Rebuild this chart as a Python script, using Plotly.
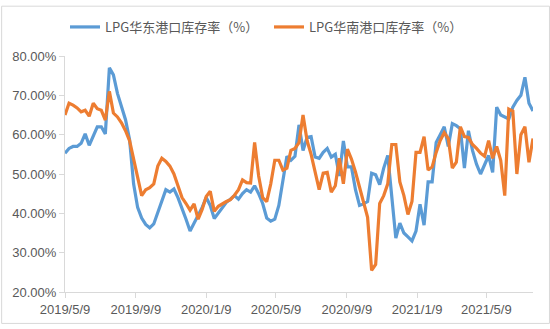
import pandas as pd
import plotly.graph_objects as go

# Weekly observations starting 2019-05-09
start_date = "2019-05-09"
n_weeks = 117
dates = pd.date_range(start_date, periods=n_weeks, freq="7D")

east_china = [
    55.3, 56.5, 57.0, 57.0, 57.8, 60.2, 57.3, 59.5, 62.0, 62.0,
    60.2, 77.0, 75.2, 70.5, 67.3, 63.8, 58.8, 47.5, 41.5, 38.8,
    37.2, 36.3, 37.3, 40.3, 43.0, 46.0, 45.4, 46.2, 44.0, 41.5,
    38.5, 35.5, 37.4, 39.5, 41.5, 44.0, 42.0, 38.7, 40.0, 41.5,
    42.8, 43.6, 44.5, 43.6, 45.0, 46.0, 45.4, 47.0, 45.0, 42.5,
    38.8, 38.0, 38.5, 42.0, 48.5, 54.5, 53.5, 54.5, 62.5, 56.0,
    59.3, 59.5, 54.3, 54.0, 55.5, 56.5, 54.3, 55.0, 49.5, 58.4,
    51.8, 51.8, 46.0, 42.0, 42.4, 43.0, 50.2, 49.8, 47.3, 51.5,
    54.7, 45.0, 33.7, 37.5, 35.0, 34.0, 33.0, 35.5, 42.3, 37.0,
    48.0, 48.0, 58.0, 60.0, 62.0, 57.0, 62.8, 62.3, 61.5, 51.5,
    61.0, 56.0, 52.5, 50.0, 52.2, 54.7, 50.4, 67.0, 65.0, 64.4,
    64.0, 67.0, 68.7, 70.0, 74.6, 68.0, 66.0,
]

south_china = [
    65.0, 68.0, 67.5, 66.8, 65.8, 66.2, 64.7, 68.0, 66.6, 66.2,
    63.7, 71.0, 65.5, 64.5, 63.0, 61.0, 58.5, 53.5, 49.0, 44.5,
    46.0, 46.5, 47.5, 52.0, 54.0, 53.2, 52.0, 50.0, 47.0, 44.0,
    42.5, 40.8, 42.4, 38.5, 41.0, 44.3, 45.6, 40.5, 41.8, 42.5,
    43.0, 43.5, 44.6, 46.0, 48.5, 47.8, 47.7, 58.0, 49.5, 44.0,
    43.0, 47.5, 53.5, 53.5, 51.0, 51.5, 56.0, 56.5, 58.0, 65.0,
    58.5, 55.0, 50.5, 46.0, 50.2, 50.4, 45.4, 47.0, 54.0, 47.5,
    56.3, 53.8, 50.5, 46.8, 42.8, 39.0, 25.5, 27.0, 42.5, 44.5,
    47.5, 57.5, 57.5, 48.0, 44.5, 39.7, 43.0, 55.5, 55.5, 59.5,
    51.0, 51.8, 55.5, 58.5, 60.5, 59.0, 51.5, 53.0, 62.0, 59.5,
    59.3, 57.5, 56.5, 55.3, 54.5, 58.5, 54.0, 57.0, 53.5, 44.5,
    66.5, 66.0, 50.0, 60.0, 62.0, 53.0, 59.0,
]

series_names = ["LPG华东港口库存率（%）", "LPG华南港口库存率（%）"]
series_colors = ["#5B9BD5", "#ED7D31"]

tick_dates = ["2019-05-09", "2019-09-09", "2020-01-09", "2020-05-09",
              "2020-09-09", "2021-01-09", "2021-05-09"]
tick_labels = ["2019/5/9", "2019/9/9", "2020/1/9", "2020/5/9",
               "2020/9/9", "2021/1/9", "2021/5/9"]
y_ticks = [20, 30, 40, 50, 60, 70, 80]
y_labels = [f"{v:.2f}%" for v in y_ticks]

fig = go.Figure()
for name, values, color in zip(series_names, [east_china, south_china], series_colors):
    fig.add_trace(go.Scatter(
        x=dates, y=values, mode="lines", name=name,
        line=dict(color=color, width=3.2),
    ))

axis_color = "#D9D9D9"
text_color = "#595959"
W, H = 550, 329
ml, mr, mt, mb = 64, 17, 52, 33
pw, ph = W - ml - mr, H - mt - mb

fig.update_layout(
    width=W, height=H,
    margin=dict(l=ml, r=mr, t=mt, b=mb),
    paper_bgcolor="white", plot_bgcolor="white",
    font=dict(family="Liberation Sans, Arial, sans-serif", size=13, color=text_color),
    showlegend=True,
    legend=dict(
        orientation="h", x=0, xanchor="left",
        y=(H - mb - 22) / ph, yanchor="middle",
        font=dict(family="Noto Sans CJK SC, sans-serif", size=13, color=text_color),
        itemwidth=30, entrywidth=159, entrywidthmode="pixels",
        bgcolor="rgba(0,0,0,0)",
    ),
    xaxis=dict(
        type="date",
        range=[dates[0], dates[-1]],
        tickvals=tick_dates, ticktext=tick_labels,
        showgrid=False, zeroline=False,
        showline=True, linecolor=axis_color, linewidth=1,
        ticks="outside", ticklen=5, tickcolor=axis_color,
    ),
    yaxis=dict(
        range=[20, 80], tickvals=y_ticks, ticktext=y_labels,
        showgrid=False, zeroline=False,
        showline=True, linecolor=axis_color, linewidth=1,
        ticks="outside", ticklen=5, tickcolor=axis_color,
    ),
    shapes=[dict(
        type="rect", xref="paper", yref="paper",
        x0=(0.5 - ml) / pw, x1=(W - 0.5 - ml) / pw,
        y0=(H - mb - (H - 0.5)) / ph, y1=(H - mb - 0.5) / ph,
        line=dict(color="#D9D9D9", width=1), fillcolor="rgba(0,0,0,0)",
        layer="below",
    )],
)

fig.write_html("out.html")
